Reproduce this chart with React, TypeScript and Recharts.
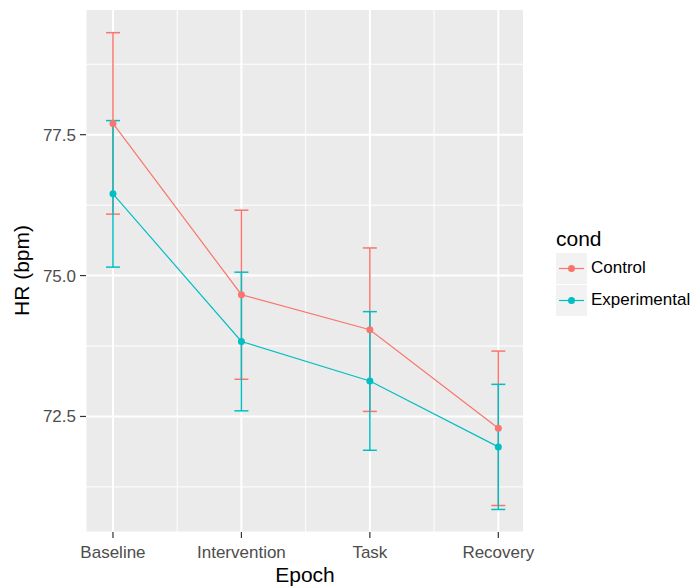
import {CartesianGrid, ErrorBar, Legend, Line, LineChart, XAxis, YAxis} from "recharts";

const epochs = ['Baseline', 'Intervention', 'Task', 'Recovery'];
const controlMean = [77.70, 74.66, 74.04, 72.29];
const controlErr = [1.61, 1.50, 1.45, 1.37];
const experimentalMean = [76.45, 73.83, 73.13, 71.96];
const experimentalErr = [1.30, 1.23, 1.23, 1.11];

const yTicks = [71.25, 72.5, 73.75, 75.0, 76.25, 77.5, 78.75];
const yMajor = [72.5, 75.0, 77.5];
const xTicks = [0, 0.5, 1, 1.5, 2, 2.5, 3];

const CONTROL = '#F8766D';
const EXPERIMENTAL = '#00BFC4';
const FONT = '"Liberation Sans", Arial, sans-serif';

const data = epochs.map((name, i) => ({
    idx: i,
    name,
    control: controlMean[i],
    controlErr: controlErr[i],
    experimental: experimentalMean[i],
    experimentalErr: experimentalErr[i],
}));

function YTick({x, y, payload}: any) {
    if (!yMajor.includes(payload.value)) return null;
    return (
        <g>
            <line x1={x - 6} x2={x} y1={y} y2={y} stroke='#333333' strokeWidth={1.2}/>
            <text x={x - 10} y={y + 6} textAnchor='end' fill='#4D4D4D' fontSize={17} fontFamily={FONT}>
                {payload.value.toFixed(1)}
            </text>
        </g>
    );
}

function XTick({x, y, payload}: any) {
    if (!Number.isInteger(payload.value)) return null;
    return (
        <g>
            <line x1={x} x2={x} y1={y} y2={y + 6} stroke='#333333' strokeWidth={1.2}/>
            <text x={x} y={y + 26} textAnchor='middle' fill='#4D4D4D' fontSize={17} fontFamily={FONT}>
                {epochs[payload.value]}
            </text>
        </g>
    );
}

function GridLine(props: any, majorOdd: boolean) {
    const {x1, x2, y1, y2, index} = props;
    const major = majorOdd ? index % 2 === 1 : index % 2 === 0;
    return <line key={props.key ?? index} x1={x1} x2={x2} y1={y1} y2={y2} stroke='#FFFFFF' strokeWidth={major ? 2 : 1}/>;
}

function LegendKey({color}: {color: string}) {
    return (
        <svg width={31} height={31} style={{display: 'block'}}>
            <rect x={0} y={0} width={31} height={31} fill='#F2F2F2'/>
            <line x1={3} x2={28} y1={15.5} y2={15.5} stroke={color} strokeWidth={1.2}/>
            <circle cx={15.5} cy={15.5} r={3.5} fill={color}/>
        </svg>
    );
}

function LegendContent() {
    const items = [['Control', CONTROL], ['Experimental', EXPERIMENTAL]];
    return (
        <div style={{fontFamily: FONT}}>
            <div style={{fontSize: 21, height: 26, lineHeight: '26px', color: '#000'}}>cond</div>
            {items.map(([label, color]) => (
                <div key={label} style={{display: 'flex', alignItems: 'center', height: 32}}>
                    <LegendKey color={color}/>
                    <span style={{fontSize: 17, marginLeft: 4, color: '#000'}}>{label}</span>
                </div>
            ))}
        </div>
    );
}

export default function App() {
    return (
        <div style={{position: 'absolute', left: 0, top: 0, background: '#fff'}}>
            <LineChart width={691} height={588} data={data} margin={{top: 9, right: 167, bottom: 0, left: 0}}>
                <CartesianGrid
                    fill='#EBEBEB'
                    stroke='#FFFFFF'
                    horizontal={(p: any) => GridLine(p, true)}
                    vertical={(p: any) => GridLine(p, false)}/>
                <XAxis
                    dataKey='idx'
                    type='number'
                    domain={[-0.21, 3.2]}
                    ticks={xTicks}
                    allowDataOverflow
                    height={56}
                    tickSize={0}
                    tickMargin={0}
                    axisLine={false}
                    tickLine={false}
                    tick={<XTick/>}
                    interval={0}
                    label={{value: 'Epoch', position: 'insideBottom', offset: 6, fill: '#000', fontSize: 21, fontFamily: FONT}}/>
                <YAxis
                    type='number'
                    domain={[70.45, 79.73]}
                    ticks={yTicks}
                    allowDataOverflow
                    width={86}
                    tickSize={0}
                    tickMargin={0}
                    axisLine={false}
                    tickLine={false}
                    tick={<YTick/>}
                    interval={0}
                    label={{value: 'HR (bpm)', angle: -90, position: 'insideLeft', offset: 22, fill: '#000', fontSize: 21, fontFamily: FONT, style: {textAnchor: 'middle'}}}/>
                <Legend
                    layout='vertical'
                    align='center'
                    verticalAlign='middle'
                    content={<LegendContent/>}
                    wrapperStyle={{left: 556, top: 226, width: 135}}/>
                <Line
                    dataKey='control'
                    stroke={CONTROL}
                    strokeWidth={1.2}
                    dot={{r: 3.5, fill: CONTROL, stroke: CONTROL, strokeWidth: 0}}
                    activeDot={false}
                    isAnimationActive={false}>
                    <ErrorBar dataKey='controlErr' direction='y' width={7} stroke={CONTROL} strokeWidth={1.5}/>
                </Line>
                <Line
                    dataKey='experimental'
                    stroke={EXPERIMENTAL}
                    strokeWidth={1.2}
                    dot={{r: 3.5, fill: EXPERIMENTAL, stroke: EXPERIMENTAL, strokeWidth: 0}}
                    activeDot={false}
                    isAnimationActive={false}>
                    <ErrorBar dataKey='experimentalErr' direction='y' width={7} stroke={EXPERIMENTAL} strokeWidth={1.5}/>
                </Line>
            </LineChart>
        </div>
    );
}
